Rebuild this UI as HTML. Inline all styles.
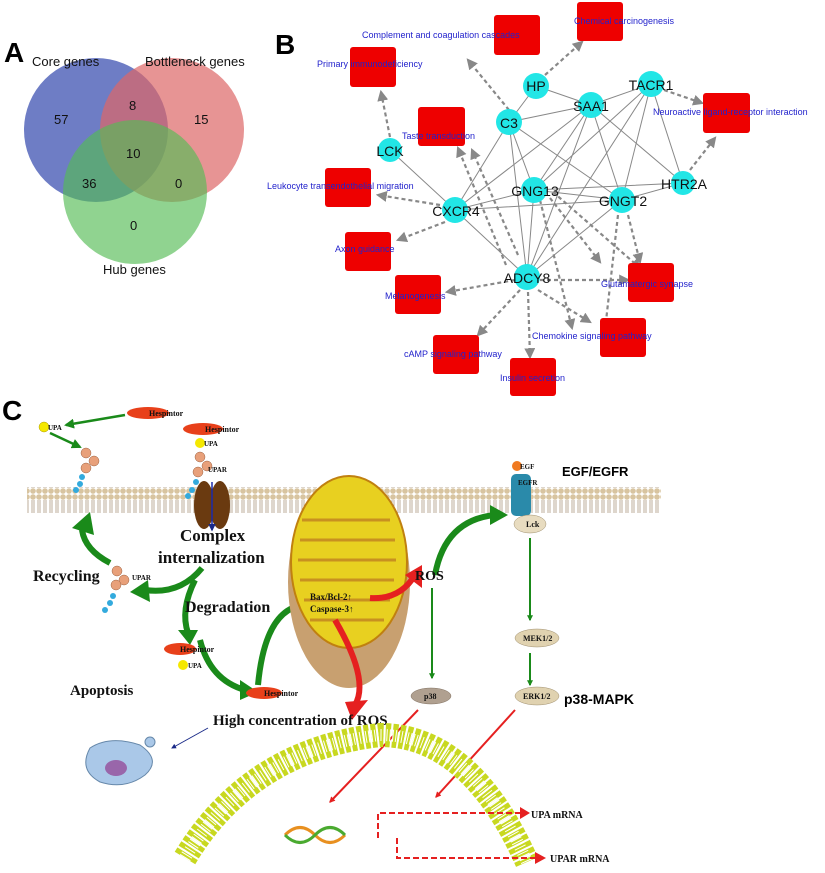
<!DOCTYPE html>
<html><head><meta charset="utf-8"><style>
body{margin:0;background:#fff;}
svg{display:block;}
.s{font-family:"Liberation Serif",serif;font-weight:bold;fill:#111;}
.b{font-family:"Liberation Sans",sans-serif;fill:#2222cc;font-size:9px;}
.g{font-family:"Liberation Sans",sans-serif;fill:#111;font-size:13px;}
</style></head><body>
<svg width="825" height="873" viewBox="0 0 825 873" xmlns="http://www.w3.org/2000/svg">
<defs>
<marker id="ga" viewBox="0 0 10 10" refX="8" refY="5" markerWidth="5" markerHeight="5" orient="auto"><path d="M0,0L10,5L0,10z" fill="#888"/></marker>
<marker id="gr" viewBox="0 0 10 10" refX="8" refY="5" markerWidth="3" markerHeight="3" orient="auto"><path d="M0,0L10,5L0,10z" fill="#1a8a1a"/></marker>
<marker id="tg" viewBox="0 0 10 10" refX="8" refY="5" markerWidth="4" markerHeight="4" orient="auto"><path d="M0,0L10,5L0,10z" fill="#1a8a1a"/></marker>
<marker id="rb" viewBox="0 0 10 10" refX="8" refY="5" markerWidth="3" markerHeight="3" orient="auto"><path d="M0,0L10,5L0,10z" fill="#e52020"/></marker>
<marker id="bl" viewBox="0 0 10 10" refX="8" refY="5" markerWidth="5" markerHeight="5" orient="auto"><path d="M0,0L10,5L0,10z" fill="#1a2a88"/></marker>
<pattern id="mem" width="6" height="26" patternUnits="userSpaceOnUse"><circle cx="3" cy="3" r="2.8" fill="#d8c4a0"/><circle cx="3" cy="23" r="2.8" fill="#d8c4a0"/><path d="M2,6v14M4,6v14" stroke="#a08c70" stroke-width="0.7"/></pattern>
</defs>

<!-- Panel A -->
<text x="4" y="62" font-family="Liberation Sans" font-weight="bold" font-size="28">A</text>
<circle cx="96" cy="130" r="72" fill="#5566bb" fill-opacity="0.85"/>
<circle cx="172" cy="130" r="72" fill="#dd6666" fill-opacity="0.7"/>
<circle cx="135" cy="192" r="72" fill="#55bb55" fill-opacity="0.65"/>
<g class="g"><text x="32" y="66">Core genes</text><text x="145" y="66">Bottleneck genes</text><text x="103" y="274">Hub genes</text>
<text x="54" y="124">57</text><text x="129" y="110">8</text><text x="194" y="124">15</text><text x="126" y="158">10</text><text x="82" y="188">36</text><text x="175" y="188">0</text><text x="130" y="230">0</text></g>

<!-- Panel B -->
<text x="275" y="54" font-family="Liberation Sans" font-weight="bold" font-size="28">B</text>
<g stroke="#888" stroke-width="2.2" stroke-dasharray="4,3" marker-end="url(#ga)" fill="none">
<path d="M390,137L381,92"/><path d="M509,110L468,60"/><path d="M545,75L582,42"/>
<path d="M664,90L702,103"/><path d="M690,170L715,138"/><path d="M440,205L378,195"/>
<path d="M445,222L398,240"/><path d="M515,280L447,292"/><path d="M540,280L628,280"/>
<path d="M520,290L478,335"/><path d="M528,292L530,357"/><path d="M538,290L590,322"/>
<path d="M506,265L458,148"/><path d="M518,255L472,150"/><path d="M550,198L600,262"/>
<path d="M540,200L572,328"/><path d="M618,215L605,330"/><path d="M628,215L640,262"/>
<path d="M553,192L640,268"/>
</g>
<g stroke="#888" stroke-width="1" fill="none"><path d="M536,86L509,122L591,105L536,86"/><path d="M591,105L651,84L683,183"/><path d="M591,105L683,183"/><path d="M509,122L455,210L591,105L534,190L651,84L527,277L591,105L622,200L651,84"/><path d="M509,122L534,190M509,122L527,277M509,122L622,200"/><path d="M390,150L455,210L534,190L622,200L683,183L534,190M455,210L622,200"/><path d="M455,210L527,277L534,190M527,277L622,200"/></g>
<g fill="#ee0000">
<rect x="494" y="15" width="46" height="40" rx="3"/><rect x="577" y="2" width="46" height="39" rx="3"/><rect x="350" y="47" width="46" height="40" rx="3"/><rect x="418" y="107" width="47" height="39" rx="3"/><rect x="703" y="93" width="47" height="40" rx="3"/><rect x="325" y="168" width="46" height="39" rx="3"/><rect x="345" y="232" width="46" height="39" rx="3"/><rect x="395" y="275" width="46" height="39" rx="3"/><rect x="628" y="263" width="46" height="39" rx="3"/><rect x="600" y="318" width="46" height="39" rx="3"/><rect x="433" y="335" width="46" height="39" rx="3"/><rect x="510" y="358" width="46" height="38" rx="3"/>
</g>
<g fill="#22e6e6"><circle cx="536" cy="86" r="13"/><circle cx="591" cy="105" r="13"/><circle cx="651" cy="84" r="13"/><circle cx="509" cy="122" r="13"/><circle cx="390" cy="150" r="12"/><circle cx="455" cy="210" r="13"/><circle cx="534" cy="190" r="13"/><circle cx="622" cy="200" r="13"/><circle cx="683" cy="183" r="12"/><circle cx="527" cy="277" r="13"/></g>
<g font-family="Liberation Sans" font-size="14" fill="#111" text-anchor="middle"><text x="536" y="91">HP</text><text x="591" y="111">SAA1</text><text x="651" y="90">TACR1</text><text x="509" y="128">C3</text><text x="390" y="156">LCK</text><text x="456" y="216">CXCR4</text><text x="535" y="196">GNG13</text><text x="623" y="206">GNGT2</text><text x="684" y="189">HTR2A</text><text x="527" y="283">ADCY8</text></g>
<g class="b"><text x="362" y="38">Complement and coagulation cascades</text><text x="574" y="24">Chemical carcinogenesis</text><text x="317" y="67">Primary immunodeficiency</text><text x="402" y="139">Taste transduction</text><text x="653" y="115">Neuroactive ligand-receptor interaction</text><text x="267" y="189">Leukocyte transendothelial migration</text><text x="335" y="252">Axon guidance</text><text x="385" y="299">Melanogenesis</text><text x="601" y="287">Glutamatergic synapse</text><text x="532" y="339">Chemokine signaling pathway</text><text x="404" y="357">cAMP signaling pathway</text><text x="500" y="381">Insulin secretion</text></g>

<!-- Panel C -->
<text x="2" y="420" font-family="Liberation Sans" font-weight="bold" font-size="28">C</text>
<rect x="27" y="487" width="634" height="26" fill="url(#mem)"/>
<ellipse cx="148" cy="413" rx="21" ry="6" fill="#e8401a"/><text class="s" x="149" y="416" font-size="8">Hespintor</text>
<path d="M125,415L66,425" stroke="#1a8a1a" stroke-width="2.5" marker-end="url(#tg)"/>
<circle cx="44" cy="427" r="5" fill="#f5e800" stroke="#aa9900" stroke-width="0.5"/><text class="s" x="48" y="430" font-size="7">UPA</text>
<path d="M50,433L80,447" stroke="#1a8a1a" stroke-width="2.5" marker-end="url(#tg)"/>
<g fill="#e8a07a" stroke="#9a6040" stroke-width="0.5"><circle cx="86" cy="453" r="5"/><circle cx="94" cy="461" r="5"/><circle cx="86" cy="468" r="5"/></g>
<g fill="#33aadd"><circle cx="82" cy="477" r="3"/><circle cx="80" cy="484" r="3"/><circle cx="76" cy="490" r="3"/></g>
<ellipse cx="203" cy="429" rx="20" ry="6" fill="#e8401a"/><text class="s" x="205" y="432" font-size="8">Hespintor</text>
<circle cx="200" cy="443" r="5" fill="#f5e800"/><text class="s" x="204" y="446" font-size="7">UPA</text>
<g fill="#e8a07a" stroke="#9a6040" stroke-width="0.5"><circle cx="200" cy="457" r="5"/><circle cx="207" cy="466" r="5"/><circle cx="198" cy="472" r="5"/></g>
<text class="s" x="208" y="472" font-size="7">UPAR</text>
<g fill="#33aadd"><circle cx="196" cy="482" r="3"/><circle cx="192" cy="490" r="3"/><circle cx="188" cy="496" r="3"/></g>
<ellipse cx="204" cy="505" rx="10" ry="24" fill="#6a3a10"/><ellipse cx="220" cy="505" rx="10" ry="24" fill="#6a3a10"/>
<path d="M212,482L212,530" stroke="#1a2aaa" stroke-width="1.5" marker-end="url(#bl)"/>
<text class="s" x="180" y="541" font-size="17">Complex</text><text class="s" x="158" y="563" font-size="17">internalization</text>
<text class="s" x="33" y="581" font-size="16">Recycling</text>
<g fill="#e8a07a" stroke="#9a6040" stroke-width="0.5"><circle cx="117" cy="571" r="5"/><circle cx="124" cy="580" r="5"/><circle cx="116" cy="585" r="5"/></g><text class="s" x="132" y="580" font-size="7">UPAR</text>
<g fill="#33aadd"><circle cx="113" cy="596" r="3"/><circle cx="110" cy="603" r="3"/><circle cx="105" cy="610" r="3"/></g>
<g fill="none" stroke="#1a8a1a" stroke-width="6">
<path d="M110,563Q85,550 82,530"/><path d="M202,568Q180,595 145,590"/><path d="M195,580Q180,610 188,633"/>
<path d="M200,640Q210,680 245,690"/><path d="M258,685Q265,610 303,605"/><path d="M435,575Q445,520 495,515"/>
</g>
<g fill="#1a8a1a"><path d="M72,528L90,512L94,535z"/><path d="M130,592L148,580L150,602z"/><path d="M178,630L198,630L190,645z"/><path d="M240,680L258,692L240,700z"/><path d="M296,595L312,604L298,616z"/><path d="M490,505L508,515L490,525z"/></g>
<text class="s" x="185" y="612" font-size="16">Degradation</text>
<ellipse cx="180" cy="649" rx="16" ry="6" fill="#e8401a"/><text class="s" x="180" y="652" font-size="8">Hespintor</text>
<circle cx="183" cy="665" r="5" fill="#f5e800"/><text class="s" x="188" y="668" font-size="7">UPA</text>
<ellipse cx="264" cy="693" rx="18" ry="6" fill="#e8401a"/><text class="s" x="264" y="696" font-size="8">Hespintor</text>
<ellipse cx="349" cy="582" rx="61" ry="106" fill="#c8a070"/>
<ellipse cx="349" cy="562" rx="58" ry="86" fill="#e8d020" stroke="#c08010" stroke-width="2"/>
<g fill="none" stroke="#c89020" stroke-width="3"><path d="M302,520H390M300,540H395M298,560H396M300,580H394M304,600H390M310,620H384"/></g>
<text class="s" x="310" y="600" font-size="9" fill="#333">Bax/Bcl-2↑</text><text class="s" x="310" y="612" font-size="9" fill="#333">Caspase-3↑</text>
<path d="M370,598Q400,600 415,575" stroke="#e52020" stroke-width="6" fill="none"/><path d="M405,575L422,565L422,588z" fill="#e52020"/>
<path d="M335,620Q370,680 355,705" stroke="#e52020" stroke-width="6" fill="none"/><path d="M345,702L368,700L352,720z" fill="#e52020"/>
<text class="s" x="415" y="580" font-size="14">ROS</text>
<text class="s" x="213" y="725" font-size="15">High concentration of ROS</text>
<text class="s" x="70" y="695" font-size="15">Apoptosis</text>
<path d="M208,728L172,748" stroke="#1a2a88" stroke-width="1" marker-end="url(#bl)"/>
<path d="M90,748Q110,735 140,745Q162,760 145,775Q125,790 100,782Q78,770 90,748z" fill="#aac8e8" stroke="#6688aa"/>
<ellipse cx="116" cy="768" rx="11" ry="8" fill="#9966aa"/><circle cx="150" cy="742" r="5" fill="#aac8e8" stroke="#6688aa"/>
<circle cx="517" cy="466" r="5" fill="#f07a20"/><text class="s" x="520" y="469" font-size="7">EGF</text>
<rect x="511" y="474" width="20" height="42" rx="5" fill="#2a8aaa"/><text class="s" x="518" y="485" font-size="7">EGFR</text>
<ellipse cx="530" cy="524" rx="16" ry="9" fill="#e8dcc0" stroke="#a09070" stroke-width="0.5"/><text class="s" x="526" y="527" font-size="8">Lck</text>
<text x="562" y="476" font-family="Liberation Sans" font-weight="bold" font-size="13">EGF/EGFR</text>
<g stroke="#1a8a1a" stroke-width="2" marker-end="url(#gr)"><path d="M530,538V620"/><path d="M530,653V685"/><path d="M432,588V678"/></g>
<ellipse cx="537" cy="638" rx="22" ry="9" fill="#e0d2b0" stroke="#a09070" stroke-width="0.5"/><text class="s" x="523" y="641" font-size="8">MEK1/2</text>
<ellipse cx="537" cy="696" rx="22" ry="9" fill="#e0d2b0" stroke="#a09070" stroke-width="0.5"/><text class="s" x="523" y="699" font-size="8">ERK1/2</text>
<ellipse cx="431" cy="696" rx="20" ry="8" fill="#b0a090" stroke="#807060" stroke-width="0.5"/><text class="s" x="424" y="699" font-size="8">p38</text>
<text x="564" y="704" font-family="Liberation Sans" font-weight="bold" font-size="14">p38-MAPK</text>
<g stroke="#e52020" stroke-width="2" marker-end="url(#rb)"><path d="M418,710L330,802"/><path d="M515,710L436,797"/></g>
<path d="M185,858Q250,750 380,735Q470,735 527,862" fill="none" stroke="#c8d820" stroke-width="24" stroke-dasharray="5,2"/>
<path d="M185,858Q250,750 380,735Q470,735 527,862" fill="none" stroke="#fff" stroke-width="12" stroke-dasharray="1,2"/>
<path d="M285,835Q300,820 315,835T345,835" stroke="#e89020" stroke-width="3" fill="none"/><path d="M285,835Q300,850 315,835T345,835" stroke="#4aaa30" stroke-width="3" fill="none"/>
<g stroke="#e52020" stroke-width="2" stroke-dasharray="6,3" fill="none"><path d="M378,838V813H520"/><path d="M397,838V858H535"/></g>
<path d="M520,807L530,813L520,819z" fill="#e52020"/><path d="M535,852L546,858L535,864z" fill="#e52020"/>
<text class="s" x="531" y="818" font-size="10">UPA mRNA</text><text class="s" x="550" y="862" font-size="10">UPAR mRNA</text>
</svg>
</body></html>
